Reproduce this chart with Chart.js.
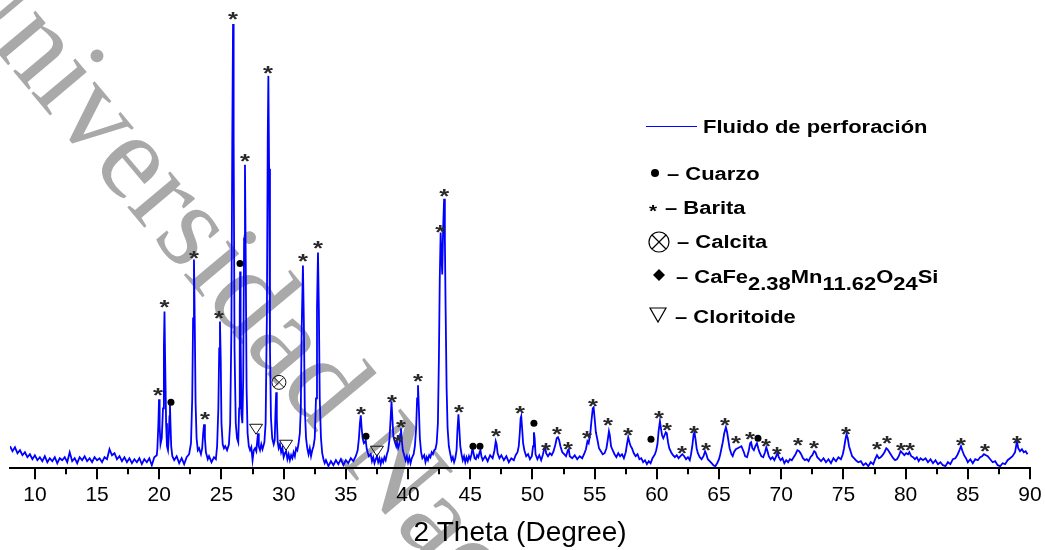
<!DOCTYPE html>
<html>
<head>
<meta charset="utf-8">
<script src="https://cdn.jsdelivr.net/npm/chart.js@4"></script>
<style>
  html, body { margin: 0; padding: 0; background: #fff; }
  #wrap { width: 1045px; height: 550px; position: relative; }
</style>
</head>
<body>
<div id="wrap"><canvas id="xrdChart"></canvas></div>
<script>
// XRD scan: [2 theta, intensity]
const scan = [
  [8.0,22],[8.2,17],[8.4,21],[8.6,15],[8.8,18],[9.0,13],[9.2,16],[9.4,11],[9.6,14],[9.8,9],
  [10.0,13],[10.2,8],[10.4,11],[10.6,7],[10.8,12],[11.0,6],[11.2,10],[11.4,7],[11.6,11],[11.8,5],
  [12.0,10],[12.2,8],[12.4,11],[12.6,6],[12.8,16],[13.0,7],[13.2,10],[13.4,5],[13.6,11],[13.8,8],
  [14.0,12],[14.2,7],[14.4,10],[14.6,6],[14.8,11],[15.0,8],[15.2,10],[15.4,6],[15.6,11],[15.8,9],
  [16.0,19],[16.2,13],[16.4,15],[16.6,9],[16.8,12],[17.0,7],[17.2,11],[17.4,6],[17.6,10],[17.8,5],
  [18.0,9],[18.2,6],[18.4,10],[18.6,4],[18.8,9],[19.0,6],[19.2,10],[19.4,3],[19.6,11],[19.8,13],
  [19.85,20],[19.93,45],[19.98,69],[20.03,42],[20.1,24],[20.2,30],[20.3,60],[20.37,120],[20.42,157],[20.47,110],
  [20.55,45],[20.62,22],[20.7,18],[20.76,30],[20.82,52],[20.86,64],[20.9,45],[20.96,22],[21.05,12],[21.2,8],
  [21.4,12],[21.6,5],[21.8,10],[22.0,4],[22.2,11],[22.4,14],[22.55,25],[22.65,70],[22.72,150],[22.79,209],
  [22.85,150],[22.92,65],[23.0,30],[23.1,18],[23.2,20],[23.35,14],[23.45,20],[23.53,35],[23.6,44],[23.67,30],
  [23.75,16],[23.9,9],[24.0,12],[24.2,6],[24.4,11],[24.55,9],[24.65,22],[24.75,60],[24.82,120],[24.88,147],
  [24.94,110],[25.0,45],[25.1,24],[25.2,20],[25.3,22],[25.45,18],[25.6,24],[25.7,45],[25.8,140],[25.87,330],
  [25.93,445],[25.98,330],[26.05,120],[26.15,45],[26.25,30],[26.35,26],[26.42,60],[26.47,160],[26.5,197],[26.54,130],
  [26.6,55],[26.68,45],[26.75,90],[26.82,230],[26.89,304],[26.95,210],[27.02,80],[27.1,35],[27.2,22],[27.3,18],
  [27.4,21],[27.5,8],[27.6,18],[27.7,20],[27.8,17],[27.88,28],[27.94,35],[28.0,22],[28.1,18],[28.2,24],
  [28.3,19],[28.45,26],[28.55,45],[28.65,150],[28.72,330],[28.77,393],[28.83,300],[28.9,120],[28.98,50],[29.08,30],
  [29.2,24],[29.28,28],[29.34,55],[29.4,76],[29.45,50],[29.52,26],[29.6,20],[29.7,24],[29.8,16],[29.9,20],
  [30.0,11],[30.1,15],[30.2,17],[30.3,9],[30.4,14],[30.5,8],[30.6,13],[30.7,10],[30.8,16],[30.9,12],
  [31.0,20],[31.1,18],[31.2,25],[31.3,35],[31.38,60],[31.45,140],[31.55,203],[31.62,150],[31.7,60],[31.8,30],
  [31.9,20],[32.0,14],[32.1,20],[32.2,12],[32.3,18],[32.4,22],[32.5,30],[32.6,70],[32.68,160],[32.76,216],
  [32.83,160],[32.9,70],[33.0,30],[33.1,15],[33.2,9],[33.3,5],[33.4,8],[33.6,2],[33.8,7],[34.0,3],
  [34.2,8],[34.4,4],[34.6,9],[34.8,3],[35.0,8],[35.2,5],[35.4,10],[35.6,7],[35.8,12],[35.95,18],
  [36.05,30],[36.13,45],[36.2,53],[36.27,40],[36.35,30],[36.45,25],[36.53,26],[36.6,28],[36.67,20],[36.75,16],
  [36.85,12],[37.0,14],[37.1,7],[37.2,11],[37.3,5],[37.4,9],[37.5,12],[37.6,6],[37.7,10],[37.8,4],
  [37.9,9],[38.0,6],[38.1,11],[38.2,8],[38.3,14],[38.4,18],[38.5,28],[38.6,50],[38.67,67],[38.74,50],
  [38.82,32],[38.9,28],[38.97,25],[39.05,22],[39.12,26],[39.2,20],[39.3,24],[39.37,34],[39.43,40],[39.5,28],
  [39.58,18],[39.67,14],[39.8,8],[39.9,12],[40.0,6],[40.1,11],[40.2,5],[40.3,10],[40.45,14],[40.55,22],
  [40.65,40],[40.73,70],[40.8,83],[40.87,60],[40.95,30],[41.05,16],[41.15,10],[41.3,13],[41.4,6],[41.5,11],
  [41.6,8],[41.7,13],[41.8,11],[41.9,16],[42.0,14],[42.1,18],[42.2,19],[42.3,25],[42.4,45],[42.48,110],
  [42.55,190],[42.62,236],[42.68,215],[42.75,194],[42.82,240],[42.9,270],[42.96,230],[43.02,160],[43.1,80],[43.18,40],
  [43.28,22],[43.4,14],[43.5,8],[43.6,11],[43.7,6],[43.8,10],[43.9,18],[43.97,38],[44.05,54],[44.12,40],
  [44.2,22],[44.3,14],[44.4,8],[44.5,12],[44.6,6],[44.7,11],[44.8,7],[44.9,12],[45.0,9],[45.1,14],
  [45.18,20],[45.25,16],[45.35,10],[45.45,9],[45.55,13],[45.65,11],[45.75,16],[45.82,18],[45.9,12],[46.0,8],
  [46.2,12],[46.4,7],[46.6,13],[46.8,10],[46.95,18],[47.05,27],[47.12,24],[47.2,15],[47.35,10],[47.5,13],
  [47.7,8],[47.9,12],[48.1,6],[48.3,10],[48.5,8],[48.65,13],[48.8,16],[48.9,22],[48.98,35],[49.05,50],
  [49.1,52],[49.17,40],[49.25,25],[49.35,18],[49.5,12],[49.65,14],[49.8,9],[49.95,12],[50.05,22],[50.12,36],
  [50.18,30],[50.25,14],[50.4,9],[50.55,13],[50.7,8],[50.85,14],[50.95,20],[51.02,22],[51.1,15],[51.25,12],
  [51.4,15],[51.55,13],[51.7,17],[51.85,24],[51.95,30],[52.05,31],[52.15,28],[52.25,22],[52.4,16],[52.55,14],
  [52.7,12],[52.85,18],[52.92,19],[53.0,12],[53.2,10],[53.4,13],[53.6,9],[53.8,12],[54.0,10],[54.15,14],
  [54.3,19],[54.42,27],[54.52,25],[54.65,35],[54.75,48],[54.85,60],[54.92,61],[55.0,50],[55.1,36],[55.2,30],
  [55.35,20],[55.5,17],[55.65,14],[55.8,15],[55.95,20],[56.05,28],[56.15,37],[56.22,33],[56.32,22],[56.45,18],
  [56.6,14],[56.75,11],[56.9,15],[57.05,12],[57.2,14],[57.35,10],[57.5,16],[57.6,24],[57.7,31],[57.8,26],
  [57.9,22],[58.0,20],[58.15,15],[58.3,12],[58.45,14],[58.6,9],[58.75,10],[58.9,6],[59.05,8],[59.2,4],
  [59.35,7],[59.5,5],[59.65,10],[59.75,12],[59.85,14],[59.95,18],[60.05,24],[60.15,38],[60.25,47],[60.33,40],
  [60.42,33],[60.52,30],[60.62,33],[60.72,36],[60.8,35],[60.9,26],[61.0,20],[61.15,16],[61.3,13],[61.45,11],
  [61.6,13],[61.75,10],[61.9,12],[62.05,14],[62.2,12],[62.35,9],[62.5,11],[62.65,8],[62.75,14],[62.85,22],
  [62.95,33],[63.02,36],[63.1,30],[63.2,20],[63.3,15],[63.45,11],[63.6,9],[63.75,12],[63.88,17],[63.98,14],
  [64.1,9],[64.25,7],[64.4,5],[64.55,3],[64.7,2],[64.85,5],[65.0,9],[65.1,14],[65.2,20],[65.3,26],
  [65.42,35],[65.55,41],[65.65,36],[65.75,28],[65.85,20],[66.0,14],[66.1,12],[66.2,16],[66.35,19],[66.5,20],
  [66.65,21],[66.8,22],[66.9,19],[67.0,16],[67.1,12],[67.25,11],[67.4,18],[67.5,25],[67.58,26],[67.68,20],
  [67.8,18],[67.92,22],[68.05,25],[68.15,20],[68.25,16],[68.4,12],[68.55,11],[68.7,16],[68.8,21],[68.9,17],
  [69.0,12],[69.15,9],[69.3,11],[69.45,8],[69.6,12],[69.7,16],[69.8,11],[69.95,8],[70.1,10],[70.25,5],
  [70.4,8],[70.55,6],[70.7,9],[70.85,8],[71.0,11],[71.15,14],[71.3,18],[71.45,17],[71.6,14],[71.75,10],
  [71.9,8],[72.05,9],[72.2,7],[72.35,11],[72.5,13],[72.65,17],[72.75,16],[72.9,11],[73.05,9],[73.2,7],
  [73.4,10],[73.6,6],[73.8,9],[74.0,5],[74.2,10],[74.4,7],[74.6,11],[74.8,9],[74.95,14],[75.05,20],
  [75.15,28],[75.25,34],[75.35,30],[75.45,22],[75.55,18],[75.7,12],[75.85,10],[76.0,8],[76.2,6],[76.4,7],
  [76.6,3],[76.8,5],[77.0,2],[77.2,6],[77.4,4],[77.55,9],[77.7,13],[77.85,10],[78.0,11],[78.15,13],
  [78.3,16],[78.45,20],[78.55,19],[78.7,16],[78.85,13],[79.0,10],[79.15,8],[79.3,9],[79.45,12],[79.6,17],
  [79.75,15],[79.9,13],[80.05,15],[80.2,14],[80.3,16],[80.45,12],[80.6,11],[80.75,9],[80.9,11],[81.05,7],
  [81.2,10],[81.4,8],[81.6,10],[81.8,6],[82.0,9],[82.2,5],[82.4,8],[82.6,4],[82.8,6],[83.0,3],
  [83.2,2],[83.4,6],[83.6,4],[83.8,9],[84.0,10],[84.15,13],[84.3,17],[84.45,22],[84.55,18],[84.7,13],
  [84.85,10],[85.0,6],[85.2,9],[85.4,5],[85.6,9],[85.8,8],[86.0,11],[86.15,12],[86.3,14],[86.45,13],
  [86.6,12],[86.8,9],[87.0,6],[87.2,7],[87.4,3],[87.6,2],[87.8,5],[88.0,4],[88.2,8],[88.4,10],
  [88.6,12],[88.8,16],[88.95,27],[89.05,20],[89.2,17],[89.35,19],[89.5,16],[89.65,17],[89.8,14]
];

// x axis
const xTicks = [10, 15, 20, 25, 30, 35, 40, 45, 50, 55, 60, 65, 70, 75, 80, 85, 90];
const minorTicks = [12.5, 17.5, 22.5, 27.5, 32.5, 37.5, 42.5, 47.5, 52.5, 57.5, 62.5, 67.5, 72.5, 77.5, 82.5, 87.5];

// phase marks placed over the peaks: [2 theta, height]
const bariteMarks = [
  [19.9,76],[20.42,164],[22.79,214],[23.68,52],[24.8,153],[25.93,453],[26.89,311],[28.74,399],
  [31.55,211],[32.76,224],[36.22,57],[38.71,69],[39.19,29],[39.43,44],[40.8,90],[42.59,240],
  [42.91,276],[44.09,59],[47.07,35],[49.0,58],[51.09,21],[51.97,37],[52.86,22],[54.38,33],
  [54.87,65],[56.07,46],[57.68,36],[60.17,53],[60.81,41],[62.02,18],[62.98,38],[63.95,21],
  [65.48,46],[66.36,28],[67.49,32],[68.77,25],[69.66,17],[71.35,26],[72.63,23],[75.2,37],
  [77.69,22],[78.5,28],[79.63,21],[80.35,21],[84.45,26],[86.38,20],[88.95,28]
];
const quartzMarks = [[20.94,66],[26.49,205],[36.62,32],[45.22,22],[45.78,22],[50.12,45],[59.53,29],[68.13,30]];
const calciteMarks = [[29.62,86]];
const chloritoidMarks = [[27.78,39],[30.19,23],[37.5,17]];

const seriesName = 'Fluido de perforación';
const phaseNames = ['Cuarzo', 'Barita', 'Calcita', 'Cloritoide'];
const formulaParts = [['CaFe',0],['2.38',1],['Mn',0],['11.62',1],['O',0],['24',1],['Si',0]];
const watermark = 'Universidad Nacional de Chimborazo';

const SANS = '"Liberation Sans", Arial, sans-serif';
const STRETCH = 1.22;

function wideText(ctx, text, x, y) {
    ctx.save();
    ctx.translate(x, y);
    ctx.scale(STRETCH, 1);
    ctx.fillText(text, 0, 0);
    ctx.restore();
    return ctx.measureText(text).width * STRETCH;
}

function dot(ctx, x, y, r) {
    ctx.beginPath();
    ctx.arc(x, y, r, 0, Math.PI * 2);
    ctx.fill();
}
function circleX(ctx, x, y, r) {
    ctx.beginPath();
    ctx.arc(x, y, r, 0, Math.PI * 2);
    const d = r * 0.7;
    ctx.moveTo(x - d, y - d); ctx.lineTo(x + d, y + d);
    ctx.moveTo(x + d, y - d); ctx.lineTo(x - d, y + d);
    ctx.stroke();
}
function triDown(ctx, x, y, w, h) {
    ctx.beginPath();
    ctx.moveTo(x - w / 2, y - h / 2);
    ctx.lineTo(x + w / 2, y - h / 2);
    ctx.lineTo(x, y + h / 2);
    ctx.closePath();
    ctx.stroke();
}
function diamond(ctx, x, y, s) {
    ctx.beginPath();
    ctx.moveTo(x, y - s); ctx.lineTo(x + s, y); ctx.lineTo(x, y + s); ctx.lineTo(x - s, y);
    ctx.closePath();
    ctx.fill();
}
function star(ctx, x, y, font) {
    ctx.font = font;
    const m = ctx.measureText('*');
    const off = (m.actualBoundingBoxAscent - m.actualBoundingBoxDescent) / 2;
    ctx.textAlign = 'center';
    ctx.save();
    ctx.translate(x, y + off);
    ctx.scale(STRETCH, 1);
    ctx.fillText('*', 0, 0);
    ctx.restore();
    ctx.textAlign = 'left';
}

const watermarkPlugin = {
    id: 'watermark',
    beforeDraw(chart) {
        const ctx = chart.ctx;
        ctx.save();
        ctx.translate(-66, -23);
        ctx.rotate(50 * Math.PI / 180);
        ctx.font = '122px "Liberation Serif", "Times New Roman", serif';
        ctx.fillStyle = '#a9a9a9';
        ctx.fillText(watermark, 0, 0);
        ctx.restore();
    }
};

const marksPlugin = {
    id: 'marks',
    afterDatasetsDraw(chart) {
        const ctx = chart.ctx;
        const xs = chart.scales.x, ys = chart.scales.y;
        ctx.save();
        ctx.fillStyle = '#2a2a2a';
        ctx.strokeStyle = '#111';
        ctx.lineWidth = 1;
        bariteMarks.forEach(([t, v]) => star(ctx, xs.getPixelForValue(t), ys.getPixelForValue(v), 'bold 21px ' + SANS));
        ctx.fillStyle = '#000';
        quartzMarks.forEach(([t, v]) => dot(ctx, xs.getPixelForValue(t), ys.getPixelForValue(v), 3.5));
        calciteMarks.forEach(([t, v]) => circleX(ctx, xs.getPixelForValue(t), ys.getPixelForValue(v), 7));
        chloritoidMarks.forEach(([t, v]) => triDown(ctx, xs.getPixelForValue(t), ys.getPixelForValue(v), 13, 10));
        ctx.restore();
    },
    afterDraw(chart) {
        const ctx = chart.ctx;
        const xs = chart.scales.x;
        const y0 = chart.chartArea.bottom;
        ctx.save();
        // minor ticks
        ctx.strokeStyle = '#000';
        ctx.lineWidth = 2;
        minorTicks.forEach(v => {
            const px = Math.round(xs.getPixelForValue(v));
            ctx.beginPath();
            ctx.moveTo(px, y0);
            ctx.lineTo(px, y0 + 6);
            ctx.stroke();
        });

        // legend
        ctx.fillStyle = '#000';
        ctx.textBaseline = 'alphabetic';
        ctx.textAlign = 'left';
        ctx.font = 'bold 18px ' + SANS;
        ctx.strokeStyle = '#0000ff';
        ctx.lineWidth = 1;
        ctx.beginPath();
        ctx.moveTo(646, 126.5);
        ctx.lineTo(697, 126.5);
        ctx.stroke();
        wideText(ctx, seriesName, 703, 133);

        ctx.strokeStyle = '#000';
        ctx.lineWidth = 1.2;
        dot(ctx, 655, 173, 4);
        wideText(ctx, '\u2013 ' + phaseNames[0], 667, 180);

        star(ctx, 653, 208, 'bold 17px ' + SANS);
        ctx.font = 'bold 18px ' + SANS;
        wideText(ctx, '\u2013 ' + phaseNames[1], 665, 214);

        circleX(ctx, 659, 242, 10);
        wideText(ctx, '\u2013 ' + phaseNames[2], 677, 248);

        diamond(ctx, 659, 275, 6);
        let x = 676;
        x += wideText(ctx, '\u2013 ', x, 283);
        formulaParts.forEach(([t, sub]) => {
            x += wideText(ctx, t, x, sub ? 290 : 283);
        });

        triDown(ctx, 658, 315, 16, 14);
        wideText(ctx, '\u2013 ' + phaseNames[3], 675, 323);
        ctx.restore();
    }
};

new Chart(document.getElementById('xrdChart'), {
    type: 'line',
    data: {
        datasets: [{
            label: seriesName,
            data: scan.map(p => ({ x: p[0], y: p[1] })),
            borderColor: '#0000ff',
            borderWidth: 1.8,
            pointRadius: 0,
            tension: 0,
            fill: false
        }]
    },
    options: {
        responsive: true,
        maintainAspectRatio: false,
        animation: false,
        devicePixelRatio: 1,
        events: [],
        layout: {
            padding: { left: 10, right: 15, top: 9, bottom: 0 }
        },
        scales: {
            x: {
                type: 'linear',
                min: 8,
                max: 90,
                afterBuildTicks: s => { s.ticks = xTicks.map(v => ({ value: v })); },
                border: { display: true, color: '#000', width: 2 },
                grid: { drawOnChartArea: false, drawTicks: true, tickLength: 11, color: '#000', lineWidth: 2 },
                ticks: {
                    color: '#000',
                    autoSkip: false,
                    maxRotation: 0,
                    padding: 3,
                    font: { family: SANS, size: 21 }
                },
                title: {
                    display: true,
                    text: '2 Theta (Degree)',
                    color: '#000',
                    padding: { top: 6, bottom: 0 },
                    font: { family: SANS, size: 28 }
                }
            },
            y: {
                display: false,
                min: 0,
                max: 460
            }
        },
        plugins: {
            legend: { display: false },
            tooltip: { enabled: false }
        }
    },
    plugins: [watermarkPlugin, marksPlugin]
});
</script>
</body>
</html>
